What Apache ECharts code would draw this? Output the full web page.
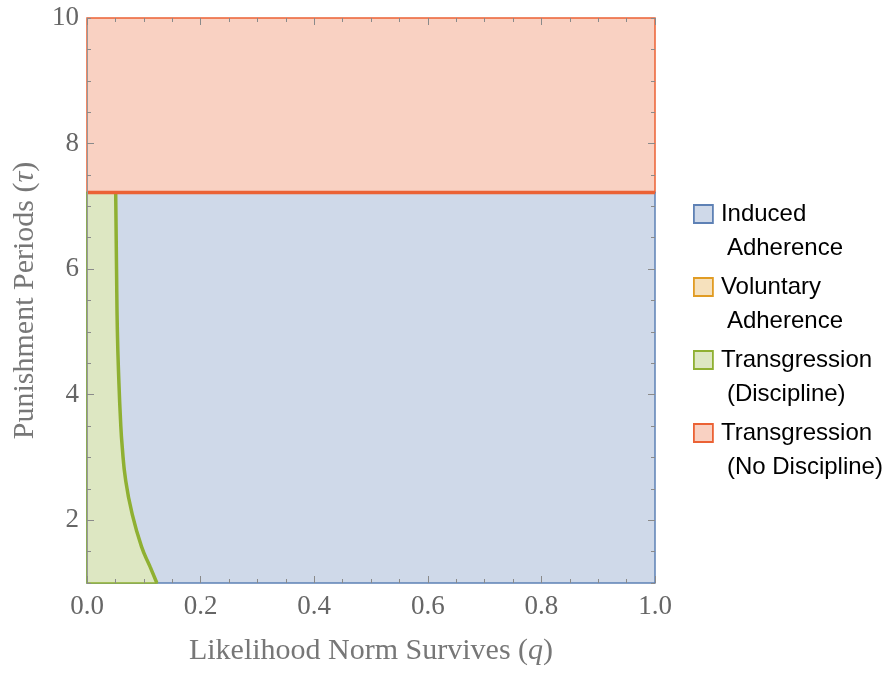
<!DOCTYPE html>
<html>
<head>
    <meta charset="utf-8">
    <title>Norm regions</title>
    <script src="https://cdn.jsdelivr.net/npm/echarts@6/dist/echarts.min.js"></script>
    <style>
        html, body { margin: 0; padding: 0; background: #fff; }
        #chart { width: 887px; height: 675px; }
    </style>
</head>
<body>
<div id="chart"></div>
<script>
    // axis ranges and ticks
    var qRange = [0, 1];
    var tauRange = [1, 10];
    var tauMajorTicks = [2, 4, 6, 8];
    var tauLabels = [2, 4, 6, 8, 10];

    // boundary between discipline / no discipline
    var tauCut = 7.22;

    // green boundary curve
    var curveQ = [0.0505, 0.052, 0.0535, 0.056, 0.059, 0.062, 0.068, 0.079, 0.096, 0.111, 0.123];
    var curveTau = [7.22, 6.0, 5.0, 4.24, 3.6, 3.17, 2.64, 2.12, 1.58, 1.26, 1.0];

    // legend
    var legendLine1 = ['Induced', 'Voluntary', 'Transgression', 'Transgression'];
    var legendLine2 = ['Adherence', 'Adherence', '(Discipline)', '(No Discipline)'];
    var fillColors = ['#cfd9e9', '#f6e1bd', '#dde7c2', '#f9d1c2'];
    var edgeColors = ['#5e81b5', '#e19c24', '#8fb032', '#eb6235'];

    var names = legendLine1.map(function (s, i) { return s + ' ' + legendLine2[i]; });

    var curve = curveQ.map(function (q, i) { return [q, curveTau[i]]; });

    // region outlines built from the values above
    var regions = [
        [[qRange[0], tauRange[0]], [qRange[1], tauRange[0]], [qRange[1], tauCut], [qRange[0], tauCut]],
        [],
        [[qRange[0], tauRange[0]], [qRange[0], tauCut]].concat(curve),
        [[qRange[0], tauCut], [qRange[1], tauCut], [qRange[1], tauRange[1]], [qRange[0], tauRange[1]]]
    ];

    function regionSeries(i) {
        var pts = regions[i];
        return {
            type: 'custom',
            name: names[i],
            coordinateSystem: 'cartesian2d',
            clip: false,
            z: 2,
            silent: true,
            itemStyle: { color: fillColors[i], borderColor: edgeColors[i] },
            data: pts.length ? [0] : [],
            renderItem: function (params, api) {
                return {
                    type: 'polygon',
                    shape: { points: pts.map(function (p) { return api.coord(p); }), smooth: 0 },
                    style: { fill: fillColors[i], stroke: edgeColors[i], lineWidth: 1.5 }
                };
            }
        };
    }

    var serif = 'Liberation Serif';
    var tickGray = '#8a8a8a';

    function qAxis(pos, showLabel) {
        return {
            type: 'value', position: pos, min: qRange[0], max: qRange[1], interval: 0.2, z: 5,
            name: showLabel ? 'Likelihood Norm Survives ({i|q})' : '',
            nameLocation: 'middle', nameGap: 53,
            nameTextStyle: { fontFamily: serif, fontSize: 30, color: '#777',
                rich: { i: { fontFamily: serif, fontStyle: 'italic', fontSize: 30, color: '#777' } } },
            axisLine: { show: false },
            splitLine: { show: false },
            axisTick: { show: true, inside: true, length: 7, lineStyle: { color: tickGray } },
            minorTick: { show: true, splitNumber: 4, length: 4, lineStyle: { color: tickGray } },
            axisLabel: { show: showLabel, margin: 10, fontFamily: serif, fontSize: 27, color: '#666',
                formatter: function (v) { return v.toFixed(1); } }
        };
    }

    function tauAxisMajor(pos, showLabel) {
        return {
            type: 'value', position: pos, min: tauRange[0], max: tauRange[1], z: 5,
            name: showLabel ? 'Punishment Periods ({i|τ})' : '',
            nameLocation: 'middle', nameGap: 47,
            nameTextStyle: { fontFamily: serif, fontSize: 30, color: '#777',
                rich: { i: { fontFamily: serif, fontStyle: 'italic', fontSize: 30, color: '#777' } } },
            axisLine: { show: showLabel, lineStyle: { color: '#999', width: 1 } },
            splitLine: { show: false },
            axisTick: { show: true, inside: true, length: 7, customValues: tauMajorTicks, lineStyle: { color: tickGray } },
            axisLabel: { show: showLabel, margin: 8, customValues: tauLabels, fontFamily: serif, fontSize: 27, color: '#666' }
        };
    }

    function tauAxisMinor(pos) {
        return {
            type: 'value', position: pos, min: tauRange[0], max: tauRange[1], interval: 0.5, z: 5,
            axisLine: { show: false },
            splitLine: { show: false },
            axisTick: { show: true, inside: true, length: 4, lineStyle: { color: tickGray } },
            axisLabel: { show: false }
        };
    }

    var option = {
        animation: false,
        grid: { left: 87, right: 232, top: 18, bottom: 92, containLabel: false, outerBoundsMode: 'none' },
        legend: {
            orient: 'vertical',
            left: 693,
            top: 202,
            padding: 0,
            itemWidth: 19,
            itemHeight: 18,
            itemGap: 15,
            icon: 'rect',
            selectedMode: false,
            data: names.map(function (n, i) {
                return { name: n, itemStyle: { color: fillColors[i], borderColor: edgeColors[i], borderWidth: 1.8 } };
            }),
            formatter: function (n) {
                var i = names.indexOf(n);
                return '{a|' + legendLine1[i] + '}\n{b|' + legendLine2[i] + '}';
            },
            textStyle: {
                fontFamily: 'Liberation Sans', fontSize: 24, color: '#000', padding: [34, 0, 0, 3],
                rich: {
                    a: { fontFamily: 'Liberation Sans', fontSize: 24, lineHeight: 34, color: '#000' },
                    b: { fontFamily: 'Liberation Sans', fontSize: 24, lineHeight: 34, color: '#000', padding: [0, 0, 0, 6] }
                }
            }
        },
        xAxis: [qAxis('bottom', true), qAxis('top', false)],
        yAxis: [tauAxisMajor('left', true), tauAxisMinor('left'), tauAxisMajor('right', false), tauAxisMinor('right')],
        series: [
            regionSeries(3),
            regionSeries(0),
            regionSeries(1),
            regionSeries(2),
            {
                type: 'line', name: 'curve', z: 3, silent: true, showSymbol: false, smooth: 0.5,
                lineStyle: { color: edgeColors[2], width: 3.5 },
                data: curve
            },
            {
                type: 'line', name: 'cut', z: 3, silent: true, showSymbol: false,
                lineStyle: { color: edgeColors[3], width: 3.5 },
                data: [[qRange[0], tauCut], [qRange[1], tauCut]]
            }
        ]
    };

    var myChart = echarts.init(document.getElementById('chart'));
    myChart.setOption(option);
</script>
</body>
</html>
